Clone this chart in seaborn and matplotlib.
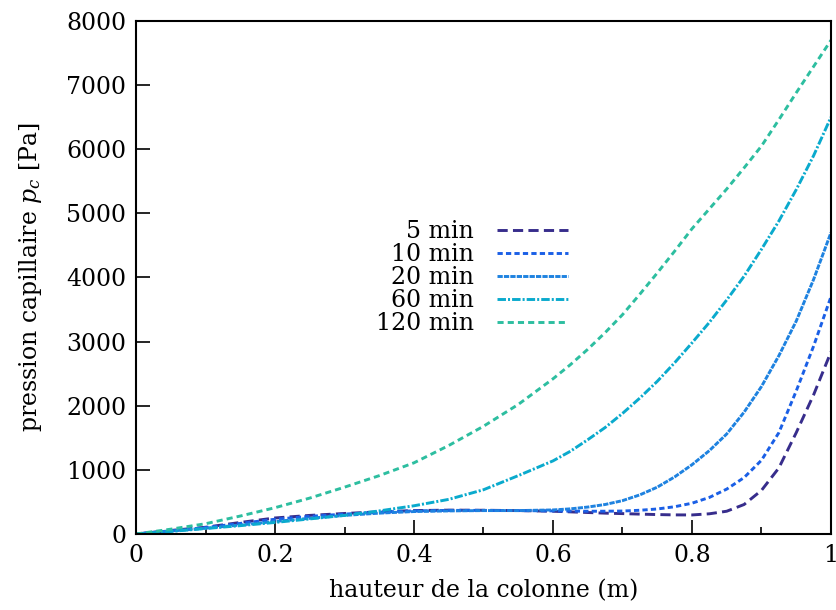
import numpy as np
import pandas as pd
import seaborn as sns
import matplotlib.pyplot as plt
from matplotlib.ticker import MultipleLocator, FormatStrFormatter

# hauteur de la colonne (m)
hauteur = [0, 0.05, 0.1, 0.15, 0.2, 0.25, 0.3, 0.35, 0.4, 0.45, 0.5, 0.55,
           0.6, 0.625, 0.65, 0.675, 0.7, 0.725, 0.75, 0.775, 0.8, 0.825,
           0.85, 0.875, 0.9, 0.925, 0.95, 0.975, 1.0]

# pression capillaire (Pa) pour chaque temps
pc_5 = [0, 55, 105, 180, 250, 290, 320, 345, 365, 372, 370, 365,
        355, 345, 335, 325, 318, 310, 303, 298, 297, 315,
        355, 460, 680, 1030, 1580, 2170, 2840]
pc_10 = [0, 50, 100, 165, 230, 275, 310, 340, 360, 368, 368, 365,
         360, 357, 355, 355, 358, 370, 390, 425, 480, 570,
         700, 880, 1150, 1580, 2230, 2930, 3700]
pc_20 = [0, 45, 90, 140, 195, 245, 290, 325, 350, 360, 365, 365,
         375, 392, 420, 460, 520, 610, 730, 890, 1080, 1300,
         1560, 1900, 2300, 2780, 3320, 3970, 4700]
pc_60 = [0, 40, 85, 130, 180, 235, 290, 360, 440, 540, 690, 910,
         1140, 1290, 1470, 1660, 1880, 2120, 2380, 2670, 2980, 3300,
         3650, 4020, 4440, 4880, 5370, 5900, 6500]
pc_120 = [0, 75, 160, 280, 410, 560, 730, 910, 1110, 1380, 1680, 2020,
          2420, 2640, 2880, 3140, 3420, 3740, 4070, 4410, 4760, 5070,
          5380, 5710, 6050, 6460, 6880, 7290, 7700]

labels = ['5 min', '10 min', '20 min', '60 min', '120 min']
series = [pc_5, pc_10, pc_20, pc_60, pc_120]
colors = ['#372d8c', '#1a5fe6', '#1e82e0', '#0aaacd', '#2dbea0']
styles = [(0, (3.5, 1.8)), (0, (1.8, 1.1)), (0, (1.8, 0.4)),
          (0, (2.9, 0.7, 0.7, 0.7)), (0, (2.1, 1.4))]

sns.set_style('white')
plt.rcParams['font.family'] = ['DejaVu Serif']
plt.rcParams['mathtext.fontset'] = 'dejavuserif'
plt.rcParams['text.color'] = 'black'
plt.rcParams['axes.labelcolor'] = 'black'
plt.rcParams['xtick.color'] = 'black'
plt.rcParams['ytick.color'] = 'black'

fig = plt.figure(figsize=(8.37, 6.10), dpi=100)
ax = fig.add_axes([0.1625, 0.1246, 0.8303, 0.841])

for lab, vals, col, ls in zip(labels, series, colors, styles):
    sns.lineplot(x=hauteur, y=vals, ax=ax, color=col, linestyle=ls,
                 linewidth=2.1, label=lab)

ax.set_xlim(0, 1)
ax.set_ylim(0, 8000)
ax.xaxis.set_major_locator(MultipleLocator(0.2))
ax.xaxis.set_minor_locator(MultipleLocator(0.1))
ax.yaxis.set_major_locator(MultipleLocator(1000))
ax.xaxis.set_major_formatter(FormatStrFormatter('%g'))
ax.tick_params(axis='both', which='major', direction='in', length=10, width=1.2,
               labelsize=17, top=False, right=False, bottom=True, left=True, pad=7)
ax.tick_params(axis='x', which='minor', direction='in', length=5, width=1.2,
               bottom=True, top=False)
for sp in ax.spines.values():
    sp.set_linewidth(1.5)
    sp.set_color('black')

ax.set_xlabel('hauteur de la colonne (m)', fontsize=17, labelpad=9)
ax.set_ylabel('pression capillaire $p_c$ [Pa]', fontsize=17, labelpad=16)

handles, labs = ax.get_legend_handles_labels()
ax.legend(handles, labs, loc='center right', bbox_to_anchor=(0.622, 0.5),
          frameon=False, markerfirst=False, fontsize=17, handlelength=3.0,
          handletextpad=1.0, labelspacing=0.0, borderpad=0, borderaxespad=0)

fig.savefig('out.png', dpi=100)
